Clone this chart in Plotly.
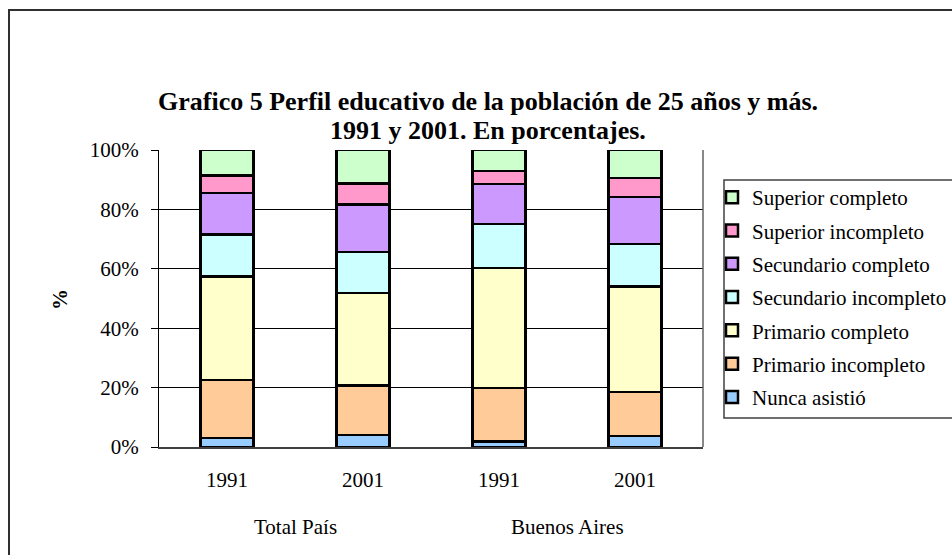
import plotly.graph_objects as go

# ---- data ----
groups = ["Total País", "Total País", "Buenos Aires", "Buenos Aires"]
years = ["1991", "2001", "1991", "2001"]
categories = [g + " " + y for g, y in zip(groups, years)]

series_names = [
    "Nunca asistió",
    "Primario incompleto",
    "Primario completo",
    "Secundario incompleto",
    "Secundario completo",
    "Superior incompleto",
    "Superior completo",
]
nunca_asistio = [3.0, 4.1, 1.9, 3.7]
primario_incompleto = [19.6, 16.6, 17.9, 14.8]
primario_completo = [34.8, 31.1, 40.4, 35.5]
secundario_incompleto = [14.1, 13.8, 14.9, 14.3]
secundario_completo = [14.1, 16.1, 13.4, 15.9]
superior_incompleto = [5.9, 7.1, 4.4, 6.3]
superior_completo = [8.5, 11.2, 7.1, 9.5]
series_values = [
    nunca_asistio,
    primario_incompleto,
    primario_completo,
    secundario_incompleto,
    secundario_completo,
    superior_incompleto,
    superior_completo,
]
colors = ["#99CCFF", "#FFCC99", "#FFFFCC", "#CCFFFF", "#CC99FF", "#FF99CC", "#CCFFCC"]

y_ticks = [0, 20, 40, 60, 80, 100]
y_ticktext = ["0%", "20%", "40%", "60%", "80%", "100%"]

title_line1 = "Grafico 5 Perfil educativo de la población de 25 años y más."
title_line2 = "1991 y 2001. En porcentajes."

FONT = "Liberation Serif, Times New Roman, serif"

# ---- layout geometry (page pixels) ----
W, H = 952, 555
PLOT_L, PLOT_R, PLOT_T, PLOT_B = 159, 703, 150, 447
L, T = PLOT_L, PLOT_T
R, B = W - PLOT_R, H - PLOT_B
pw, ph = W - L - R, H - T - B


def px_x(px):
    return (px - PLOT_L) / pw


def px_y(py):
    return (PLOT_B - py) / ph


fig = go.Figure()
n = len(series_names)
for i, (name, vals, col) in enumerate(zip(series_names, series_values, colors)):
    fig.add_trace(go.Bar(
        x=categories, y=vals, name=name,
        marker=dict(color=col, line=dict(color="black", width=2.5)),
        width=0.39, legendrank=n - i, legendgroup=name,
    ))

fig.update_layout(
    width=W, height=H,
    margin=dict(l=L, r=R, t=T, b=B, autoexpand=False),
    barmode="stack",
    plot_bgcolor="white", paper_bgcolor="white",
    font=dict(family=FONT, size=21, color="black"),
    showlegend=True,
    legend=dict(
        x=px_x(712), y=px_y(177), xanchor="left", yanchor="top",
        traceorder="grouped", tracegroupgap=3,
        borderwidth=0,
        font=dict(family=FONT, size=21, color="black"),
        bgcolor="rgba(0,0,0,0)",
    ),
    xaxis=dict(
        type="category", tickvals=categories, ticktext=years,
        showgrid=False, ticks="", showline=True, linecolor="#404040", linewidth=2,
        mirror=False, tickfont=dict(size=21), ticklabelstandoff=13,
    ),
    yaxis=dict(
        range=[0, 100], tickvals=y_ticks, ticktext=y_ticktext,
        showgrid=True, gridcolor="black", gridwidth=1,
        showline=True, linecolor="black", linewidth=1,
        ticks="outside", ticklen=7, tickcolor="black",
        tickfont=dict(size=21), ticklabelstandoff=8,
        zeroline=False,
    ),
)

# right border of plot area
fig.add_shape(type="line", xref="paper", yref="paper", x0=1, x1=1, y0=0, y1=1,
              line=dict(color="#606060", width=1.5))
# outer chart border
fig.add_shape(type="rect", xref="paper", yref="paper",
              x0=px_x(9), x1=px_x(965), y0=px_y(570), y1=px_y(10),
              line=dict(color="#303030", width=2), layer="below")
# legend box
fig.add_shape(type="rect", xref="paper", yref="paper",
              x0=px_x(724), x1=px_x(965), y0=px_y(418), y1=px_y(180),
              line=dict(color="#404040", width=1.5), layer="below")

# title
fig.add_annotation(text="<b>" + title_line1 + "</b>", xref="paper", yref="paper",
                   x=px_x(488), y=px_y(101), xanchor="center", yanchor="middle",
                   showarrow=False, font=dict(family=FONT, size=26, color="black"))
fig.add_annotation(text="<b>" + title_line2 + "</b>", xref="paper", yref="paper",
                   x=px_x(488), y=px_y(130), xanchor="center", yanchor="middle",
                   showarrow=False, font=dict(family=FONT, size=26, color="black"))
# y axis title
fig.add_annotation(text="<b>%</b>", xref="paper", yref="paper",
                   x=px_x(60), y=px_y(300), xanchor="center", yanchor="middle",
                   textangle=-90, showarrow=False, font=dict(family=FONT, size=21))
# group labels
for i in range(0, len(groups), 2):
    fig.add_annotation(text=groups[i], xref="x", yref="paper",
                       x=i + 0.5, y=px_y(527), xanchor="center", yanchor="middle",
                       showarrow=False, font=dict(family=FONT, size=21))

fig.write_html(
    "out.html",
    config={"displayModeBar": False},
    post_script="document.body.style.margin='0';document.body.style.overflow='hidden';",
)
